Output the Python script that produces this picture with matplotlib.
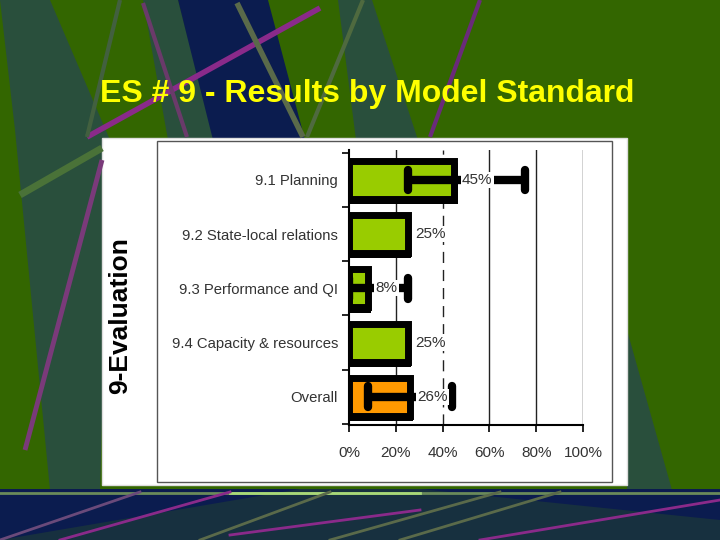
import numpy as np
import matplotlib
matplotlib.use('Agg')
import matplotlib.pyplot as plt
from matplotlib.patches import Polygon, Rectangle

# data
categories = ['9.1 Planning', '9.2 State-local relations', '9.3 Performance and QI',
              '9.4 Capacity & resources', 'Overall']
values = [45, 25, 8, 25, 26]
err_low = [25, np.nan, 0, np.nan, 8]
err_high = [75, np.nan, 25, np.nan, 44]
bar_colors = ['#99CC00', '#99CC00', '#99CC00', '#99CC00', '#FF9900']
xticks = [0, 20, 40, 60, 80, 100]
xtick_labels = ['0%', '20%', '40%', '60%', '80%', '100%']
title = 'ES # 9 - Results by Model Standard'
side_label = '9-Evaluation'

sans = ['Liberation Sans', 'DejaVu Sans']

fig = plt.figure(figsize=(7.2, 5.4), dpi=100)
fig.patch.set_facecolor('#336600')

# slide background, drawn in pixel coordinates
bg = fig.add_axes([0, 0, 1, 1])
bg.set_xlim(0, 720)
bg.set_ylim(540, 0)
bg.axis('off')
bg.set_facecolor('#336600')

teal = '#294f3c'
navy = '#0b1c4f'
shapes = [
    ([(0, 0), (50, 0), (110, 140), (100, 490), (50, 490), (15, 130)], teal),
    ([(143, 0), (178, 0), (215, 140), (168, 140)], teal),
    ([(178, 0), (268, 0), (305, 140), (213, 140)], navy),
    ([(338, 0), (372, 0), (418, 140), (356, 140)], teal),
    ([(627, 330), (672, 490), (627, 490)], teal),
]
for pts, c in shapes:
    bg.add_patch(Polygon(pts, closed=True, color=c, lw=0))

lines = [
    ((87, 137), (320, 8), '#8a2a8a', 4),
    ((143, 3), (187, 137), '#6a3a6a', 3),
    ((237, 3), (303, 137), '#5a6a4a', 4),
    ((480, 0), (430, 137), '#6a2a7a', 3),
    ((363, 0), (307, 137), '#4f6a3f', 3),
    ((120, 0), (87, 137), '#42603f', 3),
    ((20, 195), (102, 148), '#4a7238', 5),
    ((102, 160), (25, 450), '#7a3a7a', 3.5),
]
for (x0, y0), (x1, y1), c, w in lines:
    bg.plot([x0, x1], [y0, y1], color=c, lw=w, solid_capstyle='butt')

# bottom band
bg.add_patch(Rectangle((0, 489), 720, 51, color='#17303f', lw=0))
bg.add_patch(Polygon([(0, 489), (300, 489), (0, 540)], closed=True, color='#0b1c4f', lw=0))
bg.add_patch(Polygon([(420, 489), (720, 489), (720, 520)], closed=True, color='#0b1c4f', lw=0))
bg.plot([0, 720], [493, 493], color='#6a8a5a', lw=2)
bg.plot([230, 420], [493, 493], color='#a8d878', lw=2)
for (x0, y0), (x1, y1), c in [((0, 540), (140, 492), '#6a4a7a'),
                              ((60, 540), (230, 492), '#8a2a8a'),
                              ((200, 540), (330, 492), '#5a6a4a'),
                              ((230, 535), (420, 510), '#8a2a8a'),
                              ((400, 540), (560, 492), '#5a6a4a'),
                              ((480, 540), (720, 500), '#8a2a8a'),
                              ((330, 540), (500, 492), '#5a6a4a')]:
    bg.plot([x0, x1], [y0, y1], color=c, lw=2)

# white panel with inner frame
bg.add_patch(Rectangle((102, 138), 525, 347, facecolor='white', edgecolor='#dddddd', lw=1))
bg.add_patch(Rectangle((157, 141), 455, 341, facecolor='white', edgecolor='#555555', lw=1))

fig.text(367 / 720, 1 - 94 / 540, title, color='#FFFF00', fontsize=23,
         fontweight='bold', family=sans, ha='center', va='center')
fig.text(120 / 720, 1 - 316 / 540, side_label, rotation=90, color='black',
         fontsize=19, fontweight='bold', family=sans, ha='center', va='center')

# chart
ax = fig.add_axes([349 / 720, 1 - 425 / 540, 234 / 720, 275 / 540])
ax.set_facecolor('none')
y = np.arange(len(categories))

for gx in xticks[1:]:
    ax.axvline(gx, color='#222222', lw=1.0,
               ls=(0, (8, 5)) if gx == 40 else '-', zorder=0)

# shadow, then bars with heavy black outline
ax.barh(y + 0.07, [v + 1.5 for v in values], height=0.76, color='black', zorder=1)
ax.barh(y, values, height=0.70, color=bar_colors, edgecolor='black', lw=5, zorder=2)

# error bars with rounded caps
lo = np.array(err_low)
hi = np.array(err_high)
ax.hlines(y, lo, hi, color='black', lw=6, zorder=3)
caps_lo = ax.vlines(lo, y - 0.19, y + 0.19, color='black', lw=6, zorder=3)
caps_hi = ax.vlines(hi, y - 0.19, y + 0.19, color='black', lw=6, zorder=3)
caps_lo.set_capstyle('round')
caps_hi.set_capstyle('round')

for yi, v in zip(y, values):
    ax.text(v + 3.3, yi, f'{v}%', ha='left', va='center', fontsize=11, family=sans,
            color='#333333', zorder=4,
            bbox=dict(facecolor='white', edgecolor='none', pad=0.8))

ax.set_xlim(0, 100)
ax.set_ylim(4.52, -0.55)
ax.set_xticks(xticks)
ax.set_xticklabels(xtick_labels, family=sans, fontsize=11, color='#333333')
ax.set_yticks(y)
ax.set_yticklabels(categories, family=sans, fontsize=10.7, color='#333333')
ax.tick_params(axis='y', length=0, pad=8)
ax.set_yticks(np.arange(-0.5, len(categories)), minor=True)
ax.tick_params(axis='y', which='minor', length=5, width=1.2, color='black')
ax.tick_params(axis='x', length=5, width=1.2, color='black', pad=10)
for s in ['top', 'right']:
    ax.spines[s].set_visible(False)
for s in ['left', 'bottom']:
    ax.spines[s].set_linewidth(1.5)
    ax.spines[s].set_color('black')

fig.savefig('out.png', dpi=100, facecolor=fig.get_facecolor())
